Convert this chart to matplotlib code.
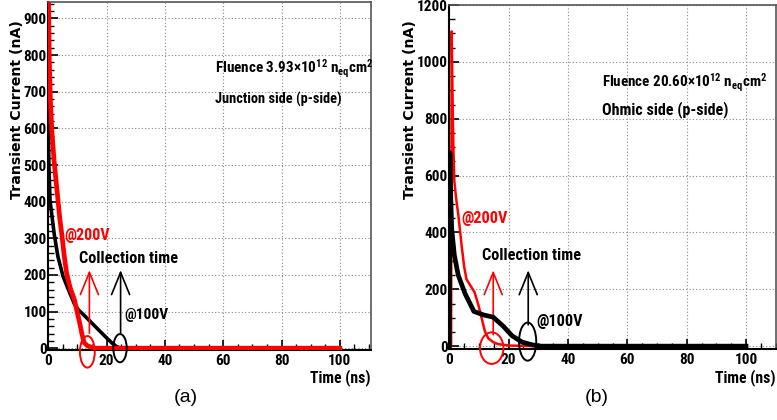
import matplotlib
matplotlib.use('Agg')
import matplotlib.pyplot as plt
from matplotlib import font_manager as fm
from matplotlib.patches import Ellipse
from matplotlib.ticker import MultipleLocator


def _w(f):
    w = f.weight
    return fm.weight_dict.get(w, 400) if isinstance(w, str) else int(w)


# pick a narrow bold face if one is installed, otherwise Arial-like Liberation Sans
narrow = [f for f in fm.fontManager.ttflist
          if (('Narrow' in f.name or 'Condensed' in f.name)
              or f.stretch in ('condensed', 'semi-condensed', 'extra-condensed'))
          and _w(f) >= 600 and 'Mono' not in f.name and 'Serif' not in f.name]
prefer = ['Liberation Sans Narrow', 'Arial Narrow', 'Roboto Condensed', 'Open Sans Condensed',
          'Noto Sans', 'DejaVu Sans', 'Open Sans', 'Roboto']
narrow.sort(key=lambda f: prefer.index(f.name) if f.name in prefer else len(prefer))
if narrow:
    FONT, STRETCH = narrow[0].name, narrow[0].stretch
else:
    FONT, STRETCH = 'Liberation Sans', 'normal'

plt.rcParams['font.family'] = [FONT, 'DejaVu Sans']
plt.rcParams['font.weight'] = 'bold'
plt.rcParams['font.stretch'] = STRETCH
plt.rcParams['mathtext.default'] = 'regular'

# (a) fluence 3.93e12, junction side
t_a_200 = [0, 0.3, 0.7, 1.2, 2.0, 3.0, 4.0, 4.6, 5.5, 6.3, 7.5, 9.0, 10.0, 10.8, 11.5, 12.3, 13.5, 15.0, 16.0, 100]
i_a_200 = [1000, 800, 680, 594, 510, 430, 350, 313, 250, 204, 165, 131, 95, 68, 40, 15, 6, 2, 0, 0]
t_a_100 = [0, 0.2, 0.6, 2.0, 3.3, 5.1, 7.5, 9.0, 10.3, 12.0, 14.0, 16.0, 18.0, 20.0, 22.0, 23.5, 25.0, 100]
i_a_100 = [620, 500, 403, 313, 250, 195, 148, 120, 105, 92, 76, 60, 44, 28, 13, 4, 0, 0]

# (b) fluence 20.60e12, ohmic side
t_b_200 = [0, 0.6, 0.8, 1.0, 1.2, 1.4, 1.7, 2.3, 3.0, 4.2, 5.0, 5.8, 7.0, 8.5, 9.8, 10.9, 12.0, 13.1, 14.8, 16.5, 18.0, 20.5, 31.0]
i_b_200 = [0, 0, 1107, 950, 800, 690, 580, 520, 465, 350, 280, 235, 215, 190, 145, 99, 52, 28, 14, 7, 5, 2, 0]
t_b_100 = [0, 0.1, 0.2, 0.3, 0.8, 1.7, 3.0, 5.3, 8.3, 11.5, 14.8, 18.2, 21.2, 24.6, 28.2, 31.0, 100]
i_b_100 = [0, 260, 680, 588, 413, 320, 250, 185, 122, 110, 102, 70, 36, 14, 4, 0, 0]

panels = ['(a)', '(b)']
fluence = ['Fluence 3.93×10$^{12}$ n$_{eq}$cm$^{2}$', 'Fluence 20.60×10$^{12}$ n$_{eq}$cm$^{2}$']
side = ['Junction side (p-side)', 'Ohmic side (p-side)']

W, H = 777, 420
fig = plt.figure(figsize=(W / 100, H / 100), dpi=100)
renderer = fig.canvas.get_renderer()


def fit(txt, width_px, grow=1.08):
    # scale the font to the width seen in the reference (a bit over, the original face is narrower)
    for _ in range(4):
        w = txt.get_window_extent(renderer).width
        txt.set_fontsize(txt.get_fontsize() * width_px * grow / w)
    return txt


def px_axes(l, r, t, b):
    return fig.add_axes([l / W, 1 - b / H, (r - l) / W, (b - t) / H])


def style_axes(ax, ymaj, ymin):
    ax.xaxis.set_major_locator(MultipleLocator(20))
    ax.xaxis.set_minor_locator(MultipleLocator(5))
    ax.yaxis.set_major_locator(MultipleLocator(ymaj))
    ax.yaxis.set_minor_locator(MultipleLocator(ymin))
    ax.tick_params(which='both', direction='in', top=False, right=False, labelsize=11)
    ax.tick_params(which='major', length=7, width=1.2)
    ax.tick_params(which='minor', length=4, width=1.0)
    ax.tick_params(axis='x', pad=3)
    ax.tick_params(axis='y', pad=1)
    ax.grid(True, which='major', linestyle=(0, (1, 2)), color='#888888', lw=0.8)
    for s in ['left', 'bottom']:
        ax.spines[s].set_linewidth(1.5)
    for s in ['top', 'right']:
        ax.spines[s].set_color('#555555')
        ax.spines[s].set_linewidth(1.2)


def arrow(ax, x, y0, y1, color):
    ax.annotate('', xy=(x, y1), xytext=(x, y0),
                arrowprops=dict(arrowstyle='->,head_length=1.6,head_width=0.65',
                                color=color, lw=1.2, mutation_scale=10,
                                shrinkA=0, shrinkB=0))


def ring(ax, x, y, w, h, color):
    ax.add_patch(Ellipse((x, y), w, h, fill=False, edgecolor=color, lw=1.4, clip_on=False, zorder=5))


def label(ax, x, y, s, width_px, color='black'):
    fit(ax.text(x, y, s, color=color, fontsize=12, va='center'), width_px)


# ---- panel (a)
ax1 = px_axes(48.3, 371, 2, 350)
ax1.plot(t_a_100, i_a_100, color='black', lw=2.6, zorder=3)
ax1.plot(t_a_200, i_a_200, color='#ff0000', lw=3.4, zorder=4)
ax1.set_xlim(0, 110.7)
ax1.set_ylim(-5, 945)
style_axes(ax1, 100, 20)
label(ax1, 5.4, 308, '@200V', 42, '#ff0000')
label(ax1, 10.6, 245, 'Collection time', 91)
label(ax1, 26.0, 90, '@100V', 41)
label(ax1, 57.1, 763, fluence[0], 146)
label(ax1, 57.1, 678, side[0], 118)
arrow(ax1, 14.1, 41, 213, '#ff0000')
arrow(ax1, 24.8, 41, 213, 'black')
ring(ax1, 13.4, -10, 5.1, 86, '#ff0000')
ring(ax1, 24.6, 0, 4.6, 77, 'black')

# ---- panel (b)
ax2 = px_axes(449.3, 776, 5, 349)
ax2.plot(t_b_200, i_b_200, color='#ff0000', lw=1.8, zorder=3)
ax2.plot(t_b_100, i_b_100, color='black', lw=3.4, zorder=4)
ax2.set_xlim(0, 110.1)
ax2.set_ylim(-10, 1200)
style_axes(ax2, 200, 50)
label(ax2, 4.2, 448, '@200V', 43, '#ff0000')
label(ax2, 10.9, 320, 'Collection time', 92)
label(ax2, 29.5, 86, '@100V', 43)
label(ax2, 51.4, 926, fluence[1], 154)
label(ax2, 51.4, 833, side[1], 118)
arrow(ax2, 14.8, 40, 267, '#ff0000')
arrow(ax2, 26.6, 75, 267, 'black')
ring(ax2, 14.3, -7, 7.9, 111, '#ff0000')
ring(ax2, 26.4, 16, 5.8, 134, 'black')

# axis titles and panel labels
for xl, xr in [(17, 371), (410, 776)]:
    fig.text(xl / W, 1 - 110 / H, 'Transient Current (nA)', rotation=90,
             family='DejaVu Sans', stretch='normal', fontsize=10.2, fontweight='bold',
             ha='center', va='center')
    fit(fig.text(xr / W, 1 - 378 / H, 'Time (ns)', fontsize=12.5, ha='right', va='center'), 56)
for lab, xc in zip(panels, [186, 597]):
    fig.text(xc / W, 1 - 398 / H, lab, family=['Liberation Sans', 'DejaVu Sans'],
             stretch='normal', fontweight='normal', fontsize=14, ha='center', va='center')

fig.savefig('out.png', dpi=100)
